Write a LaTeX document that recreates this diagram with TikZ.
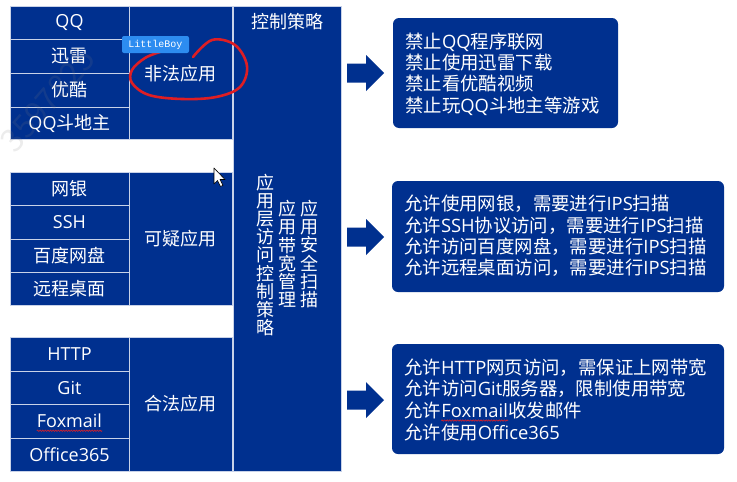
\documentclass[tikz,border=0pt]{standalone}
\usepackage{fontspec}
\setmainfont{Noto Sans CJK SC}
\newfontfamily\lat{Open Sans}
\newfontfamily\labelfont{Liberation Mono}
\usetikzlibrary{decorations.pathmorphing}
\definecolor{navy}{RGB}{0,48,143}
\definecolor{cellline}{RGB}{200,210,232}
\definecolor{tagblue}{RGB}{45,140,240}
\definecolor{penred}{RGB}{222,30,36}
\newcommand\La[1]{{\lat #1}}
\tikzset{
  cell/.style={draw=cellline, line width=1pt, fill=navy},
  celltext/.style={text=white, font=\fontsize{18}{20}\selectfont},
  infobox/.style={fill=navy, rounded corners=6pt},
  infotext/.style={text=white, align=left, anchor=west, inner sep=0pt, font=\fontsize{18.4}{21.4}\selectfont},
  infopart/.style={text=white, anchor=base west, inner sep=0pt, font=\fontsize{18.4}{21.4}\selectfont},
  vtext/.style={text=white, align=center, inner sep=0pt, text width=18pt, font=\fontsize{18}{18.2}\selectfont},
  bigarrow/.style={fill=navy},
  spellwave/.style={draw=penred, line width=0.6pt, decorate, decoration={snake, amplitude=0.7pt, segment length=2.6pt}}
}
\begin{document}
\begin{tikzpicture}[x=1pt,y=-1pt]
\useasboundingbox (0,0) rectangle (737,482);
\fill[white] (0,0) rectangle (737,482);

% middle column
\draw[cell] (233,6) rectangle (341,471);
\node[celltext] (ctrl) at (287,22) {控制策略};
\node[vtext] (v1) at (265,255) {应\\用\\层\\访\\问\\控\\制\\策\\略};
\node[vtext] (v2) at (287,254) {应\\用\\带\\宽\\管\\理};
\node[vtext] (v3) at (309,254) {应\\用\\安\\全\\扫\\描};

% group 1
\draw[cell] (10,6) rectangle (129,39);
\draw[cell] (10,39) rectangle (129,73);
\draw[cell] (10,73) rectangle (129,107);
\draw[cell] (10,107) rectangle (129,139);
\draw[cell] (129,6) rectangle (232,139);
\node[celltext] (qq) at (69.5,22.5) {\La{QQ}};
\node[celltext] (xl) at (69.5,56) {迅雷};
\node[celltext] (yk) at (69.5,90) {优酷};
\node[celltext] (dz) at (69.5,123) {\La{QQ}斗地主};
\node[celltext] (ff) at (180.5,74) {非法应用};

% group 2
\draw[cell] (10,172) rectangle (129,205);
\draw[cell] (10,205) rectangle (129,239);
\draw[cell] (10,239) rectangle (129,272);
\draw[cell] (10,272) rectangle (129,305);
\draw[cell] (129,172) rectangle (232,305);
\node[celltext] (wy) at (69.5,188.5) {网银};
\node[celltext] (ssh) at (69.5,222) {\La{SSH}};
\node[celltext] (bd) at (69.5,255.5) {百度网盘};
\node[celltext] (yc) at (69.5,288.5) {远程桌面};
\node[celltext] (ky) at (180.5,239) {可疑应用};

% group 3
\draw[cell] (10,337) rectangle (129,371);
\draw[cell] (10,371) rectangle (129,404);
\draw[cell] (10,404) rectangle (129,438);
\draw[cell] (10,438) rectangle (129,471);
\draw[cell] (129,337) rectangle (232,471);
\node[celltext] (http) at (69.5,354) {\La{HTTP}};
\node[celltext] (git) at (69.5,387.5) {\La{Git}};
\node[celltext, inner sep=0pt] (fox) at (69.5,421) {\La{Foxmail}};
\draw[spellwave] ([yshift=-3pt]fox.base west) -- ([yshift=-3pt]fox.base east);
\node[celltext] (o365) at (69.5,454.5) {\La{Office365}};
\node[celltext] (hf) at (180.5,404) {合法应用};

% arrows
\foreach \yy/\nm in {73/a1,237/a2,400/a3}{
  \fill[bigarrow] (347,\yy-9.5) -- (366,\yy-9.5) -- (366,\yy-18) -- (384,\yy) -- (366,\yy+18) -- (366,\yy+9.5) -- (347,\yy+9.5) -- cycle;
}

% info boxes
\fill[infobox] (393,18) rectangle (618,128);
\node[infotext] (t1) at (405,74) {禁止\La{QQ}程序联网\\禁止使用迅雷下载\\禁止看优酷视频\\禁止玩\La{QQ}斗地主等游戏};
\fill[infobox] (392,181) rectangle (724,292);
\node[infotext] (t2) at (404,236) {允许使用网银，需要进行\La{IPS}扫描\\允许\La{SSH}协议访问，需要进行\La{IPS}扫描\\允许访问百度网盘，需要进行\La{IPS}扫描\\允许远程桌面访问，需要进行\La{IPS}扫描};
\fill[infobox] (392,344) rectangle (724,454);
\node[infotext] (t3a) at (404,367.5) {允许\La{HTTP}网页访问，需保证上网带宽};
\node[infotext] (t3b) at (404,389) {允许访问\La{Git}服务器，限制使用带宽};
\node[infotext] (t3c) at (404,410.5) {允许};
\node[infopart] (t3fox) at (t3c.base east) {\La{Foxmail}};
\node[infopart] (t3d) at (t3fox.base east) {收发邮件};
\draw[spellwave] ([yshift=-3pt]t3fox.base west) -- ([yshift=-3pt]t3fox.base east);
\node[infotext] (t3e) at (404,432) {允许使用\La{Office365}};

% watermark
\node[rotate=49, text=gray, opacity=0.15, font=\fontsize{32}{32}\selectfont] (wm) at (48,100) {3597825};

% red freehand circle
\draw[penred, line width=2.6pt, line cap=round, line join=round]
  plot[smooth, tension=0.6] coordinates {(193,57) (212,40) (235,45) (247,66) (240,87) (216,97) (182,99) (149,95) (132,83) (132,70) (145,58) (160,52)};

% tag
\node[fill=tagblue, rounded corners=2pt, text=white, font=\labelfont\fontsize{10}{10}\selectfont, minimum width=67pt, minimum height=17pt, inner sep=0pt] (tag) at (155.5,44.5) {LittleBoy};

% mouse cursor
\filldraw[fill=white, draw=black, line width=0.6pt, line join=round]
  (214,168) -- (214,184) -- (217.5,180.5) -- (220.5,186.5) -- (223,185.3) -- (220,179.5) -- (225,179.5) -- cycle;
\end{tikzpicture}
\end{document}
